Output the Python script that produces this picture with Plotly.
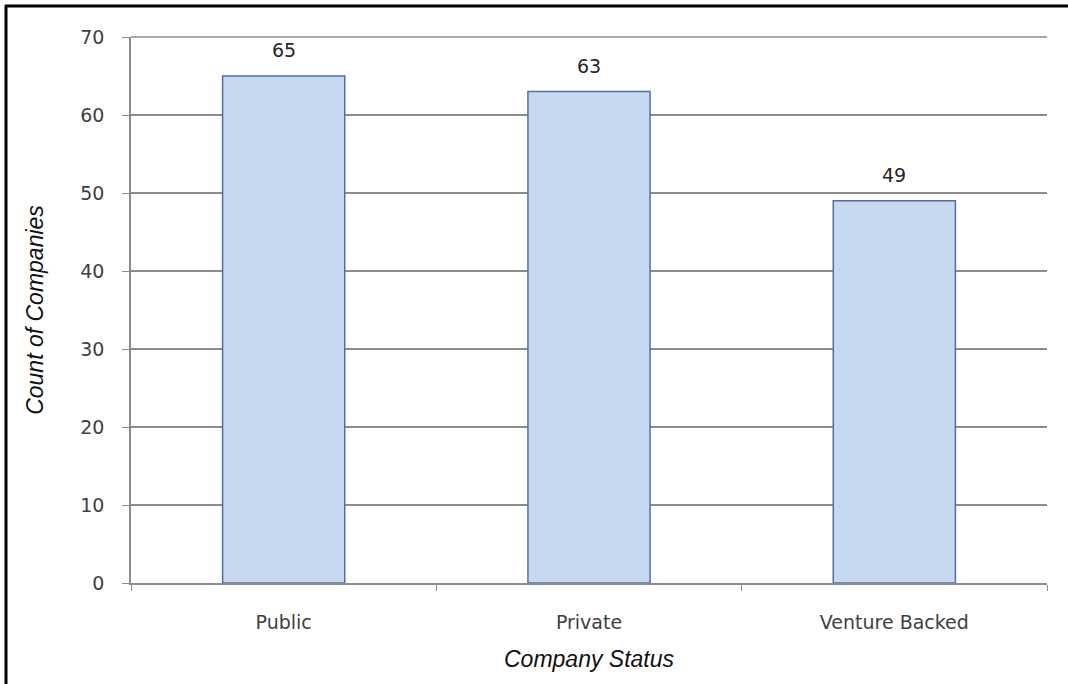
import plotly.graph_objects as go

# Company counts by ownership status
categories = ["Public", "Private", "Venture Backed"]
counts = [65, 63, 49]
y_ticks = [0, 10, 20, 30, 40, 50, 60, 70]

W, H = 1068, 684
L, R, T, B = 131, 21, 37, 101
pw, ph = W - L - R, H - T - B

tick_font = dict(family="DejaVu Sans, sans-serif", size=19, color="#404040")
title_font = dict(family="Liberation Sans, Arial, sans-serif", size=23, color="#111111")
grid = "#8c8c8c"

fig = go.Figure(
    go.Bar(
        x=categories,
        y=counts,
        marker=dict(color="#c6d9f1", line=dict(color="#4f6fa5", width=1.5)),
        hoverinfo="x+y",
    )
)

# Value labels above each bar
for c, v in zip(categories, counts):
    fig.add_annotation(x=c, y=v, text=str(v), showarrow=False,
                       yanchor="bottom", yshift=13,
                       font=dict(family="DejaVu Sans, sans-serif", size=19, color="#262626"))

# Gridline along the top edge of the plot (the range ends at the last tick)
fig.add_shape(type="line", xref="paper", yref="paper", layer="below",
              x0=0, x1=1, y0=1, y1=1,
              line=dict(color=grid, width=1.5))

fig.update_layout(
    width=W,
    height=H,
    margin=dict(l=L, r=R, t=T, b=B),
    paper_bgcolor="white",
    plot_bgcolor="white",
    bargap=0.6,
    showlegend=False,
    xaxis=dict(
        title=dict(text="<i>Company Status</i>", font=title_font, standoff=19),
        tickfont=tick_font,
        ticklabelstandoff=21,
        showline=True,
        linecolor=grid,
        linewidth=1.5,
        ticks="outside",
        tickson="boundaries",
        ticklen=6,
        tickcolor=grid,
        showgrid=False,
    ),
    yaxis=dict(
        title=dict(text="<i>Count of Companies</i>", font=title_font, standoff=30),
        range=[0, y_ticks[-1]],
        tickvals=y_ticks,
        tickfont=tick_font,
        ticklabelstandoff=14,
        showline=True,
        linecolor=grid,
        linewidth=1.5,
        ticks="outside",
        ticklen=7,
        tickcolor=grid,
        showgrid=True,
        gridcolor=grid,
        gridwidth=1.5,
        zeroline=False,
    ),
)

# Frame lines along the top and left edges of the figure
def px_x(p):
    return (p - L) / pw

def px_y(p):
    return (H - B - p) / ph

fig.add_shape(type="line", xref="paper", yref="paper",
              x0=px_x(5), x1=px_x(W + 5), y0=px_y(6), y1=px_y(6),
              line=dict(color="black", width=3))
fig.add_shape(type="line", xref="paper", yref="paper",
              x0=px_x(6), x1=px_x(6), y0=px_y(5), y1=px_y(H + 5),
              line=dict(color="black", width=3))

fig.write_html("out.html")
